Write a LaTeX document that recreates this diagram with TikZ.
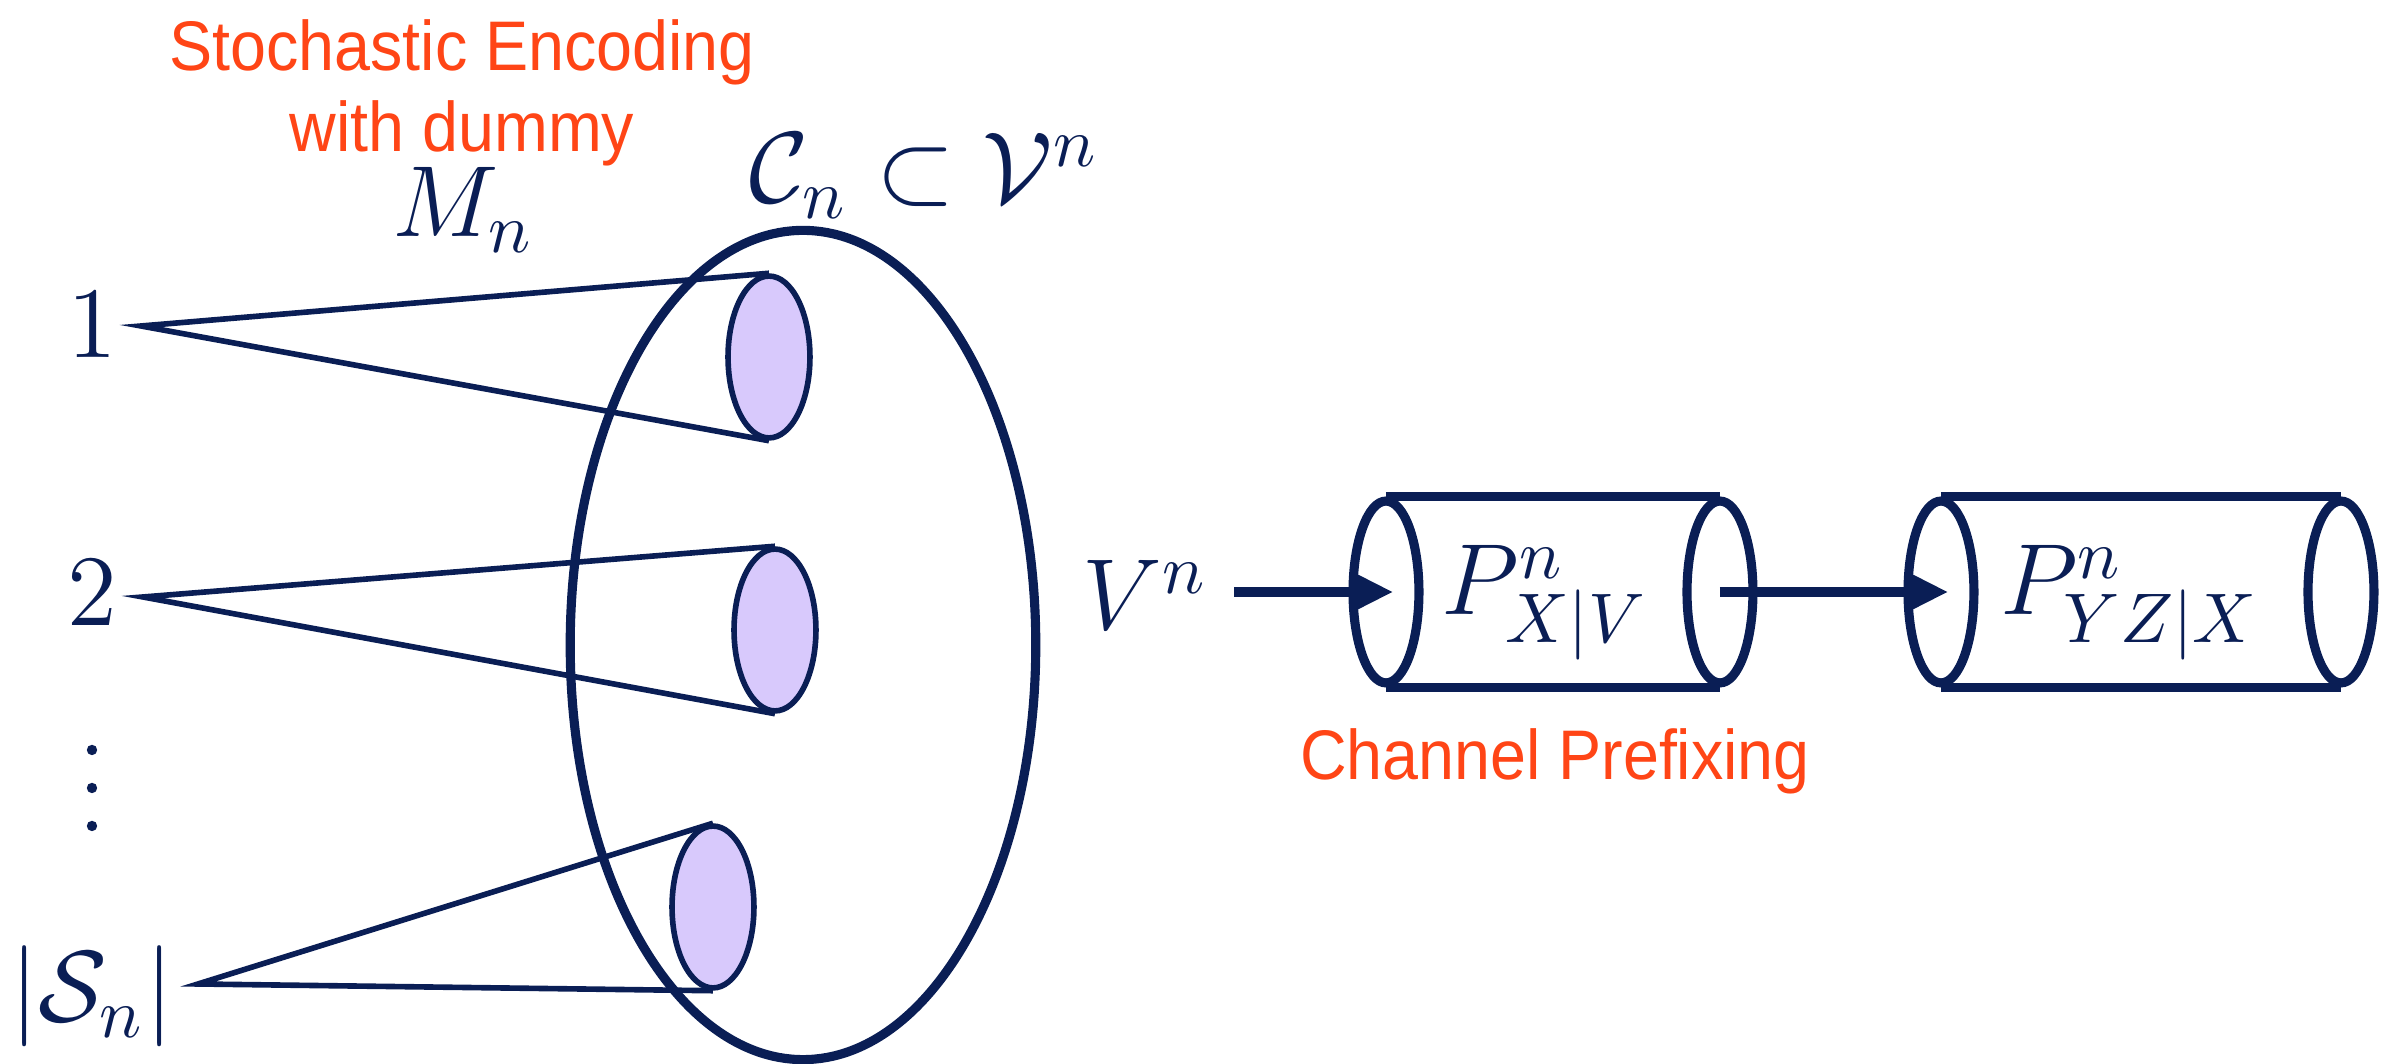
\documentclass[tikz,border=0pt]{standalone}
\usepackage{fontspec}
\usepackage{tikz}
\usetikzlibrary{arrows.meta,positioning,calc,shapes.geometric}
\newfontfamily\notefont[FakeStretch=0.92]{Liberation Sans}
\definecolor{codenavy}{HTML}{0A1E55}
\definecolor{noteorange}{HTML}{FF4516}
\definecolor{codelilac}{HTML}{D8C9FC}

\begin{document}
\begin{tikzpicture}[
  x=0.005cm, y=-0.005cm,
  mathlbl/.style={inner sep=0pt, text=codenavy, font=\fontsize{14}{16}\selectfont},
  note/.style={inner sep=0pt, text=noteorange, align=center, font=\notefont\fontsize{10}{11.6}\selectfont},
  word/.style={ellipse, draw=codenavy, line width=0.8pt, fill=codelilac, inner sep=0pt, minimum width=0.41cm, minimum height=0.81cm},
  tubeend/.style={ellipse, draw=codenavy, line width=1.3pt, inner sep=0pt, minimum width=0.33cm, minimum height=0.91cm},
  cone/.style={codenavy, line width=0.8pt},
  pipe/.style={codenavy, line width=1.3pt},
  arrow/.style={-{Triangle[length=6pt, width=5.6pt]}, codenavy, line width=1.3pt}
]
\useasboundingbox (0,0) rectangle (2402,1064);

% codebook and its labels
\node[ellipse, draw=codenavy, line width=1.3pt, inner sep=0pt, minimum width=2.33cm, minimum height=4.15cm] (codebook) at (803,645) {};
\node[mathlbl, anchor=base] (cset) at (924,203) {$\mathcal{C}_n\subset\mathcal{V}^n$};
\node[mathlbl, anchor=base] (msg) at (463,237) {$M_n$};
\node[note, anchor=north] (enc) at (462,18) {Stochastic Encoding\\with dummy};

% messages
\node[mathlbl, anchor=base] (one) at (92,358) {$1$};
\node[mathlbl, anchor=base] (two) at (92,626) {$2$};
\node[mathlbl, anchor=base] (last) at (92,1022) {$|\mathcal{S}_n|$};
\foreach \y in {750,788,826}
  \fill[codenavy] (92,\y) circle (0.026cm);
\coordinate (a1) at (141,326);
\coordinate (a2) at (143,597);
\coordinate (a3) at (198,984);

% bins
\node[word] (w1) at (769,357) {};
\node[word] (w2) at (775,630) {};
\node[word] (w3) at (713,907) {};
\draw[cone] (w1.north) -- (a1) -- (w1.south);
\draw[cone] (w2.north) -- (a2) -- (w2.south);
\draw[cone] (w3.north) -- (a3) -- (w3.south);

% channels
\node[mathlbl, anchor=base] (vin) at (1145,630) {$V^n$};
\node[tubeend] (p1l) at (1386,592) {};
\node[tubeend] (p1r) at (1720,592) {};
\draw[pipe] (p1l.north) -- (p1r.north) (p1l.south) -- (p1r.south);
\node[mathlbl, anchor=base] (chan1) at (1545,615) {$P^n_{X|V}$};
\node[tubeend] (p2l) at (1941,592) {};
\node[tubeend] (p2r) at (2341,592) {};
\draw[pipe] (p2l.north) -- (p2r.north) (p2l.south) -- (p2r.south);
\node[mathlbl, anchor=base] (chan2) at (2130,615) {$P^n_{YZ|X}$};
\node[note, anchor=base] (prefix) at (1555,780) {Channel Prefixing};

\draw[arrow, shorten <=3.6pt, shorten >=-1pt] (vin.east |- p1l.center) -- (p1l.center);
\draw[arrow, shorten >=-1pt] (p1r.center) -- (p2l.center);
\end{tikzpicture}
\end{document}
